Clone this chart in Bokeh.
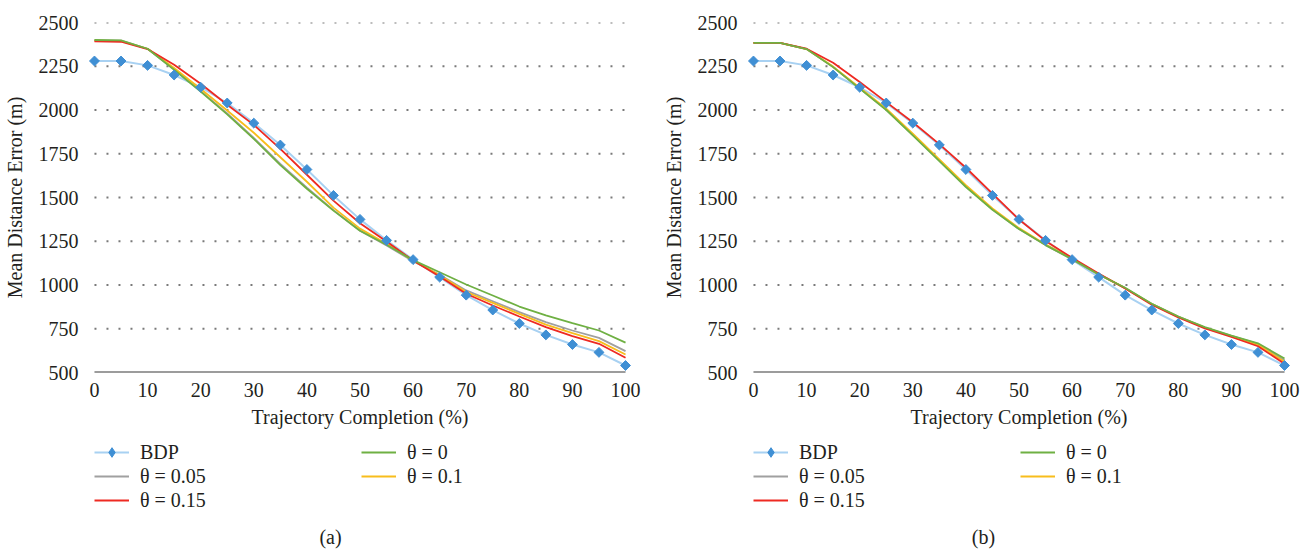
import math
from bokeh.plotting import figure
from bokeh.models import Range1d, Legend, LegendItem, Label, FixedTicker
from bokeh.layouts import row, column
from bokeh.embed import file_html
from bokeh.resources import INLINE

# ---------------- data ----------------
completion = [0, 5, 10, 15, 20, 25, 30, 35, 40, 45, 50, 55, 60, 65, 70, 75, 80, 85, 90, 95, 100]
x_ticks = [0, 10, 20, 30, 40, 50, 60, 70, 80, 90, 100]
y_ticks = [500, 750, 1000, 1250, 1500, 1750, 2000, 2250, 2500]

bdp = [2280, 2280, 2255, 2200, 2130, 2040, 1925, 1800, 1660, 1512, 1375, 1255, 1145, 1045, 942, 857, 780, 715, 660, 615, 540]

a_theta_0 = [2400, 2398, 2350, 2230, 2105, 1975, 1835, 1685, 1550, 1425, 1310, 1230, 1142, 1073, 1003, 940, 877, 826, 782, 740, 671]
a_theta_005 = [2398, 2396, 2350, 2232, 2108, 1980, 1840, 1692, 1556, 1428, 1310, 1226, 1136, 1058, 969, 907, 845, 788, 740, 698, 622]
a_theta_01 = [2396, 2394, 2350, 2240, 2120, 1997, 1870, 1730, 1590, 1442, 1322, 1236, 1140, 1056, 960, 898, 835, 774, 725, 679, 603]
a_theta_015 = [2392, 2390, 2348, 2258, 2150, 2030, 1915, 1778, 1630, 1482, 1353, 1249, 1140, 1049, 950, 883, 820, 759, 708, 664, 584]

b_theta_0 = [2384, 2383, 2348, 2245, 2122, 2000, 1855, 1708, 1560, 1430, 1320, 1228, 1148, 1060, 984, 893, 820, 759, 711, 667, 580]
b_theta_005 = [2384, 2383, 2348, 2246, 2124, 2002, 1858, 1712, 1564, 1432, 1320, 1228, 1146, 1060, 982, 892, 819, 757, 709, 663, 570]
b_theta_01 = [2384, 2383, 2348, 2248, 2128, 2008, 1865, 1718, 1570, 1437, 1325, 1232, 1150, 1062, 982, 891, 818, 756, 707, 658, 561]
b_theta_015 = [2384, 2383, 2350, 2270, 2160, 2045, 1930, 1805, 1670, 1522, 1374, 1252, 1155, 1066, 980, 887, 815, 752, 703, 650, 550]

labels = ["BDP", "θ = 0.05", "θ = 0.15", "θ = 0", "θ = 0.1"]
x_title = "Trajectory Completion (%)"
y_title = "Mean Distance Error (m)"

# ---------------- style ----------------
FONT = "Liberation Serif"
TXT = "#231f20"
FS = "20px"
C_BDP_LINE = "#a8d1f2"
C_BDP_MARK = "#3f8fd4"
C_GRAY = "#a0a0a0"
C_RED = "#ee2a22"
C_GREEN = "#6fb043"
C_YELLOW = "#f8bd1c"


def main_plot(s0, s005, s01, s015, bl, br):
    p = figure(frame_width=547, frame_height=350,
               x_range=Range1d(-1.5, 101.5), y_range=Range1d(500, 2500),
               output_backend="svg", toolbar_location=None,
               min_border_left=bl, min_border_right=br, min_border_top=22, min_border_bottom=60)
    p.outline_line_color = None
    p.xgrid.visible = False
    p.ygrid.visible = False

    p.xaxis.ticker = FixedTicker(ticks=x_ticks)
    p.yaxis.ticker = FixedTicker(ticks=y_ticks)
    for ax in (p.xaxis[0], p.yaxis[0]):
        ax.axis_line_color = None
        ax.major_tick_line_color = None
        ax.minor_tick_line_color = None
        ax.major_label_text_font = FONT
        ax.major_label_text_font_size = FS
        ax.major_label_text_color = TXT
        ax.axis_label_text_font = FONT
        ax.axis_label_text_font_size = FS
        ax.axis_label_text_font_style = "normal"
        ax.axis_label_text_color = TXT
    p.yaxis.major_label_standoff = 2
    p.yaxis.axis_label = y_title
    p.yaxis.axis_label_standoff = 10
    p.xaxis.major_label_standoff = 4
    p.xaxis.axis_label = x_title
    p.xaxis.axis_label_standoff = 6

    # dotted gridlines and solid base line
    gy = y_ticks[1:]
    n = len(gy)
    p.segment(x0=[completion[0]] * n, x1=[completion[-1]] * n, y0=gy, y1=gy,
              line_color="#7a7a7a", line_width=2, line_dash="2 10")
    p.segment(x0=[completion[0]], x1=[completion[-1]], y0=[y_ticks[0]], y1=[y_ticks[0]],
              line_color="#3a3a3a", line_width=2)

    p.line(completion, bdp, line_color=C_BDP_LINE, line_width=2)
    p.line(completion, s005, line_color=C_GRAY, line_width=1.8)
    p.line(completion, s01, line_color=C_YELLOW, line_width=1.8)
    p.line(completion, s015, line_color=C_RED, line_width=1.8)
    p.line(completion, s0, line_color=C_GREEN, line_width=1.8)
    p.scatter(completion, bdp, marker="square", angle=math.pi / 4, size=7,
              fill_color=C_BDP_MARK, line_color=C_BDP_MARK)
    return p


def legend_plot(s0, s005, s01, s015, caption, x1, x2, cap_x):
    # a frame-only strip that carries the legend; its ranges keep the data out of view
    q = figure(width=653, height=120, x_axis_location=None, y_axis_location=None,
               output_backend="svg", toolbar_location=None,
               min_border_left=0, min_border_right=0, min_border_top=0, min_border_bottom=0,
               x_range=Range1d(1000, 1001), y_range=Range1d(0, 1))
    q.outline_line_color = None
    q.xgrid.visible = False
    q.ygrid.visible = False
    r_bl = q.line(completion, bdp, line_color=C_BDP_LINE, line_width=2)
    r_bm = q.scatter(completion, bdp, marker="diamond", size=10,
                     fill_color=C_BDP_MARK, line_color=C_BDP_MARK)
    r_g = q.line(completion, s005, line_color=C_GRAY, line_width=1.8)
    r_r = q.line(completion, s015, line_color=C_RED, line_width=1.8)
    r_gr = q.line(completion, s0, line_color=C_GREEN, line_width=1.8)
    r_y = q.line(completion, s01, line_color=C_YELLOW, line_width=1.8)

    common = dict(orientation="vertical", padding=0, margin=0, spacing=0,
                  glyph_width=35, glyph_height=24, label_height=24, label_standoff=11,
                  label_text_font=FONT, label_text_font_size=FS, label_text_color=TXT,
                  label_text_font_style="normal",
                  border_line_color=None, background_fill_alpha=0)
    leg1 = Legend(items=[LegendItem(label=labels[0], renderers=[r_bl, r_bm]),
                         LegendItem(label=labels[1], renderers=[r_g]),
                         LegendItem(label=labels[2], renderers=[r_r])],
                  location=(x1, 40), **common)
    leg2 = Legend(items=[LegendItem(label=labels[3], renderers=[r_gr]),
                         LegendItem(label=labels[4], renderers=[r_y])],
                  location=(x2, 64), **common)
    q.add_layout(leg1)
    q.add_layout(leg2)
    q.add_layout(Label(x=cap_x, y=16, x_units="screen", y_units="screen", text=caption,
                       text_align="center", text_baseline="middle",
                       text_font=FONT, text_font_size=FS, text_color=TXT))
    return q


p1 = main_plot(a_theta_0, a_theta_005, a_theta_01, a_theta_015, 82, 24)
p2 = main_plot(b_theta_0, b_theta_005, b_theta_01, b_theta_015, 88, 18)
l1 = legend_plot(a_theta_0, a_theta_005, a_theta_01, a_theta_015, "(a)", 8, 275, 244)
l2 = legend_plot(b_theta_0, b_theta_005, b_theta_01, b_theta_015, "(b)", 8, 275, 238)

layout = row(column(p1, l1), column(p2, l2))
open("out.html", "w").write(file_html(layout, INLINE))
